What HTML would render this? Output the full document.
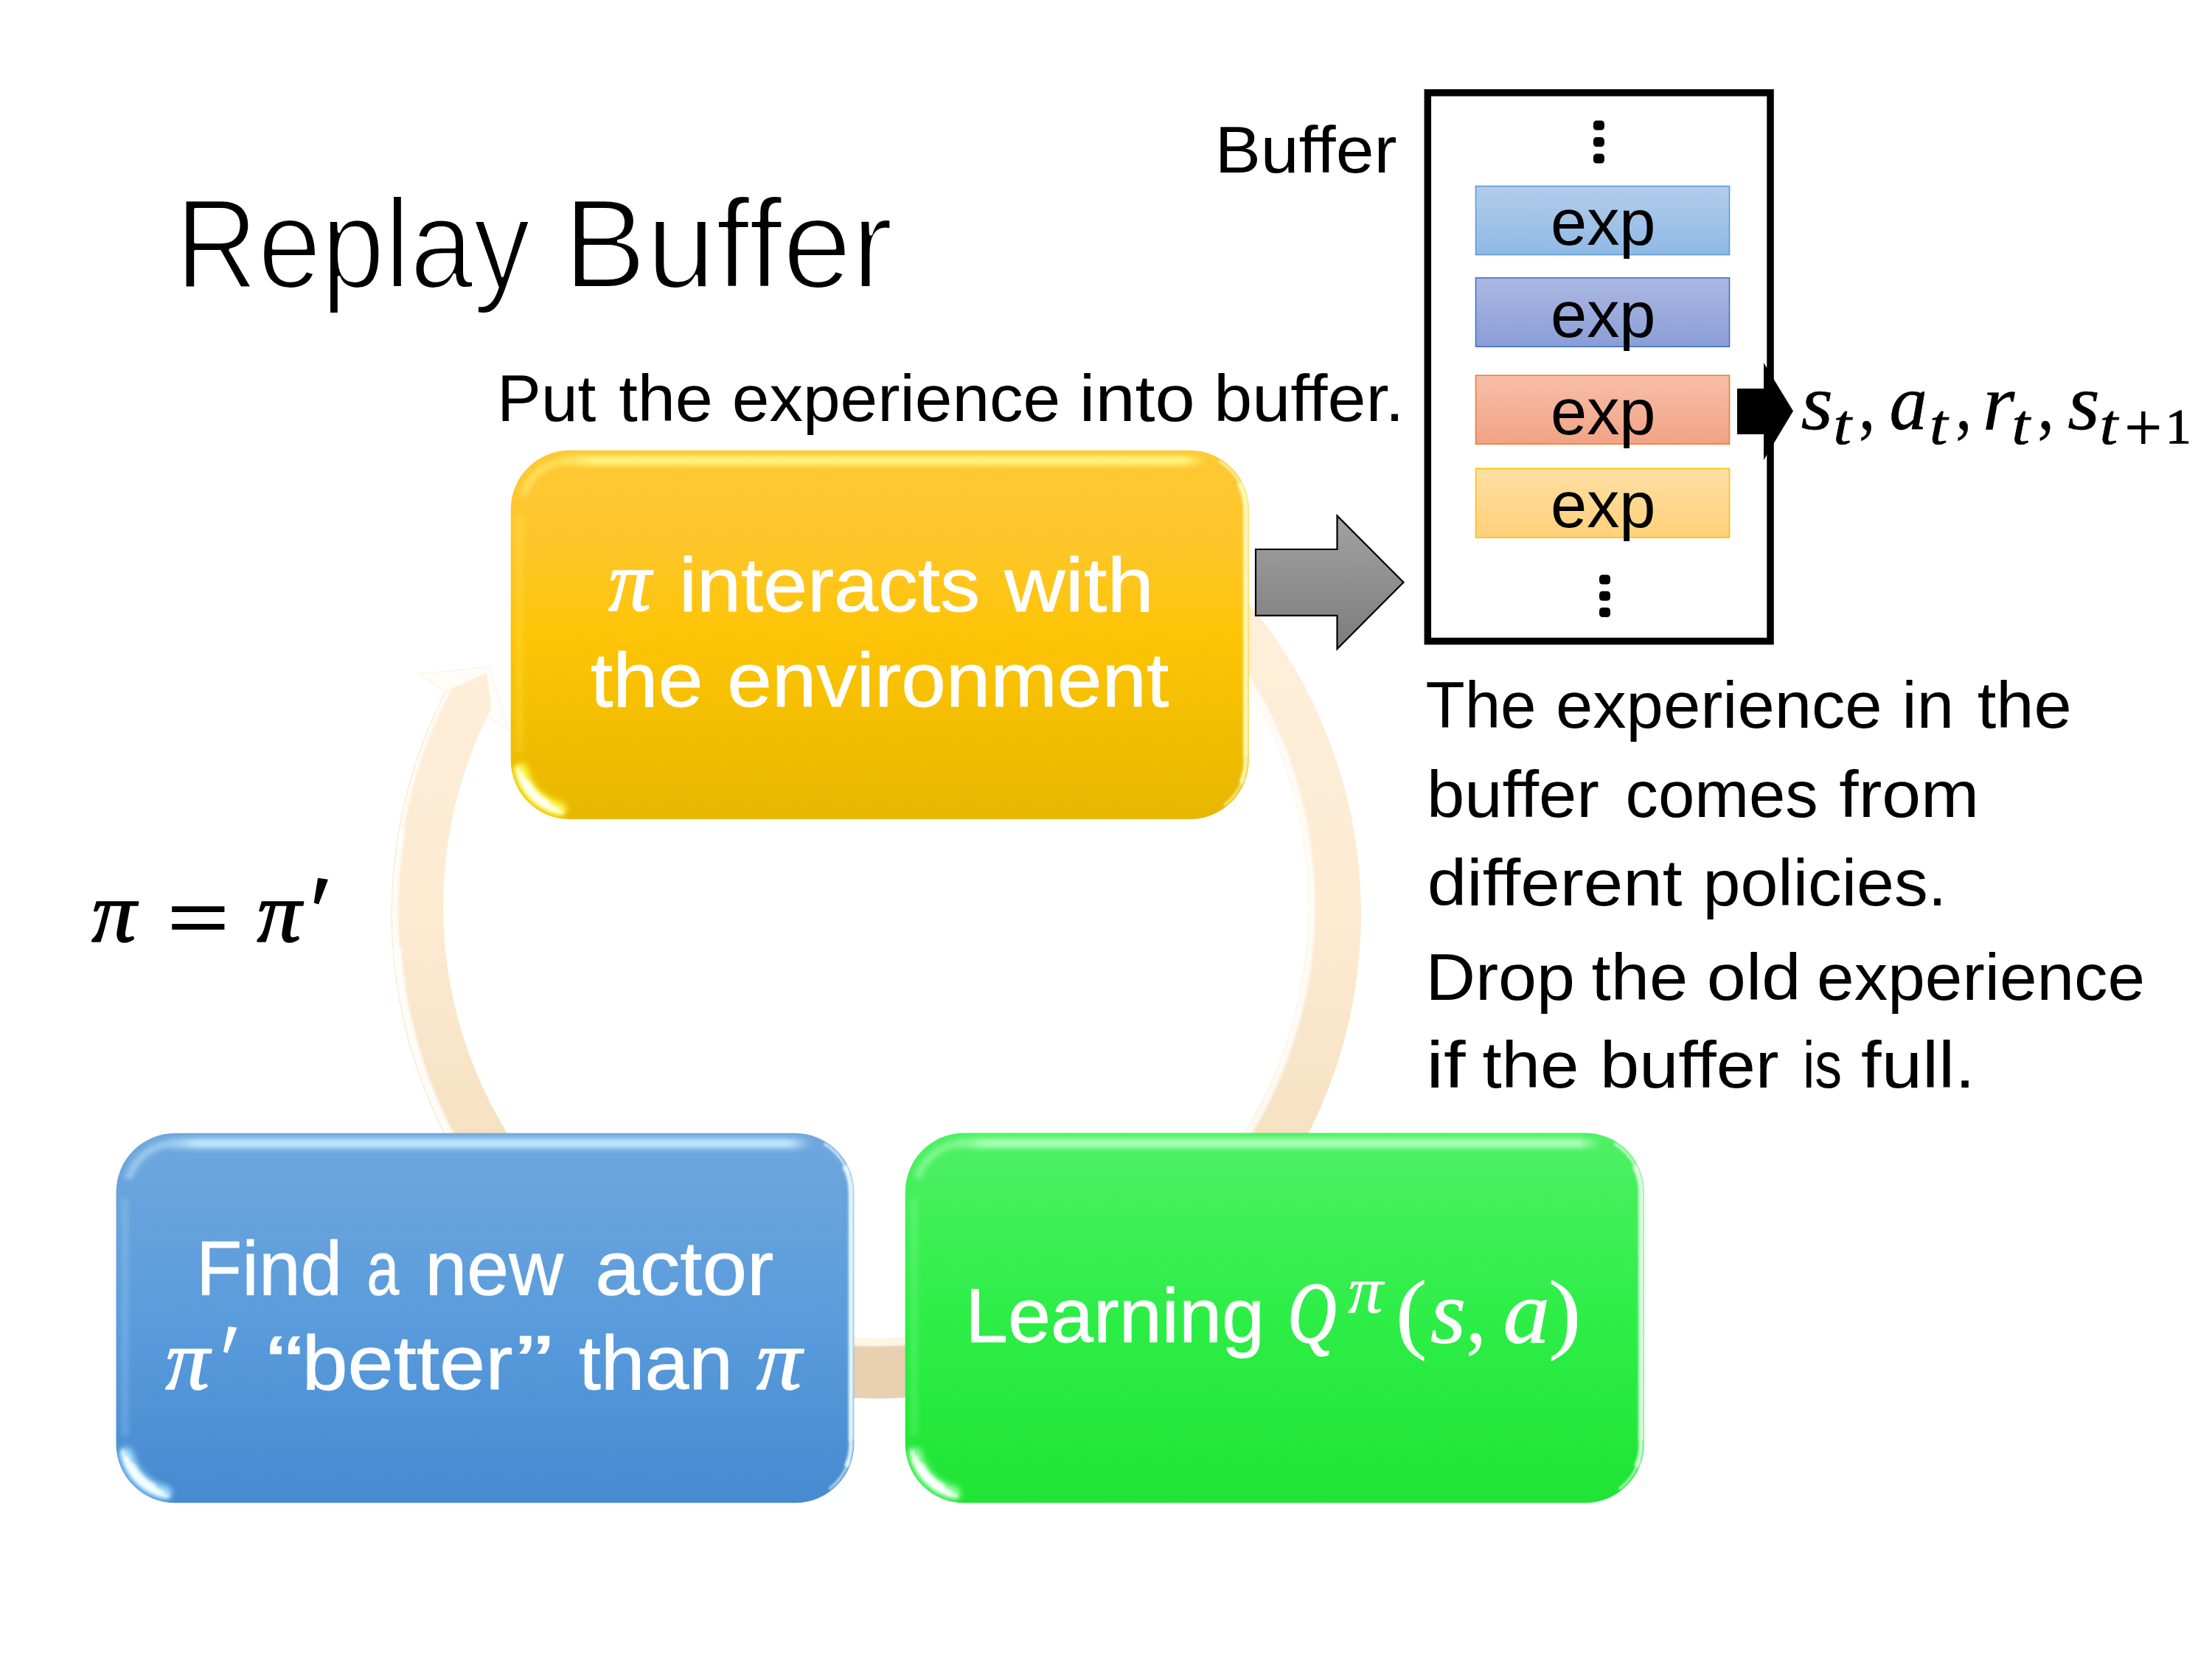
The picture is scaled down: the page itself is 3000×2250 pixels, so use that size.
<!DOCTYPE html>
<html><head><meta charset="utf-8"><title>Replay Buffer</title>
<style>
html,body{margin:0;padding:0;background:#fff;}
body{width:3000px;height:2250px;overflow:hidden;font-family:"Liberation Sans",sans-serif;}
svg{display:block;position:absolute;left:0;top:0;}
text{white-space:pre;}
</style></head><body>
<svg width="3000" height="2250" viewBox="0 0 3000 2250">
<defs>
<filter id="bl1" filterUnits="userSpaceOnUse" x="0" y="0" width="3000" height="2250"><feGaussianBlur stdDeviation="1.5"/></filter>
<filter id="bl2" filterUnits="userSpaceOnUse" x="0" y="0" width="3000" height="2250"><feGaussianBlur stdDeviation="2.2"/></filter>
<filter id="bl4" filterUnits="userSpaceOnUse" x="0" y="0" width="3000" height="2250"><feGaussianBlur stdDeviation="4"/></filter>
<filter id="bl3" filterUnits="userSpaceOnUse" x="0" y="0" width="3000" height="2250"><feGaussianBlur stdDeviation="3.5"/></filter>
<linearGradient id="gy" x1="0" y1="0" x2="0" y2="1"><stop offset="0" stop-color="#FEC834"/><stop offset="0.25" stop-color="#FEC62A"/><stop offset="0.5" stop-color="#FEC406"/><stop offset="0.75" stop-color="#F3BE00"/><stop offset="1" stop-color="#E6B700"/></linearGradient>
<linearGradient id="gb" x1="0" y1="0" x2="0" y2="1"><stop offset="0" stop-color="#70A7DD"/><stop offset="0.5" stop-color="#5A9CDC"/><stop offset="1" stop-color="#468AD0"/></linearGradient>
<linearGradient id="gg" x1="0" y1="0" x2="0" y2="1"><stop offset="0" stop-color="#4FF065"/><stop offset="0.5" stop-color="#2DEE47"/><stop offset="1" stop-color="#1FE433"/></linearGradient>
<linearGradient id="gr" gradientUnits="userSpaceOnUse" x1="0" y1="830" x2="0" y2="1900"><stop offset="0" stop-color="#FEEFDA"/><stop offset="0.38" stop-color="#FDEBD2"/><stop offset="0.66" stop-color="#F6E1C3"/><stop offset="0.92" stop-color="#E8D0B0"/><stop offset="1" stop-color="#E8D0B0"/></linearGradient>
<linearGradient id="ga" x1="0" y1="0" x2="0" y2="1"><stop offset="0" stop-color="#A2A2A2"/><stop offset="1" stop-color="#7C7C7C"/></linearGradient>
<linearGradient id="e1" x1="0" y1="0" x2="0" y2="1"><stop offset="0" stop-color="#B3CDEB"/><stop offset="1" stop-color="#8FB9E5"/></linearGradient>
<linearGradient id="e2" x1="0" y1="0" x2="0" y2="1"><stop offset="0" stop-color="#ABB8E2"/><stop offset="1" stop-color="#8A9ED7"/></linearGradient>
<linearGradient id="e3" x1="0" y1="0" x2="0" y2="1"><stop offset="0" stop-color="#F7BFA8"/><stop offset="1" stop-color="#F2A284"/></linearGradient>
<linearGradient id="e4" x1="0" y1="0" x2="0" y2="1"><stop offset="0" stop-color="#FFDFA6"/><stop offset="1" stop-color="#FFD078"/></linearGradient>
</defs>
<defs><linearGradient id="ty" gradientUnits="userSpaceOnUse" x1="766.7" y1="0" x2="1635.7" y2="0"><stop offset="0" stop-color="#FFF780" stop-opacity="0.4"/><stop offset="0.04" stop-color="#FFF780" stop-opacity="0.95"/><stop offset="0.965" stop-color="#FFF780" stop-opacity="0.95"/><stop offset="1" stop-color="#FFF780" stop-opacity="0"/></linearGradient><linearGradient id="tb" gradientUnits="userSpaceOnUse" x1="231.5" y1="0" x2="1100.3" y2="0"><stop offset="0" stop-color="#C4ECFF" stop-opacity="0.4"/><stop offset="0.04" stop-color="#C4ECFF" stop-opacity="0.95"/><stop offset="0.965" stop-color="#C4ECFF" stop-opacity="0.95"/><stop offset="1" stop-color="#C4ECFF" stop-opacity="0"/></linearGradient><linearGradient id="tg" gradientUnits="userSpaceOnUse" x1="1302" y1="0" x2="2171" y2="0"><stop offset="0" stop-color="#B0FFBC" stop-opacity="0.4"/><stop offset="0.04" stop-color="#B0FFBC" stop-opacity="0.95"/><stop offset="0.965" stop-color="#B0FFBC" stop-opacity="0.95"/><stop offset="1" stop-color="#B0FFBC" stop-opacity="0"/></linearGradient></defs>
<path d="M566,914 L664,904.5 L689.5,990 Z" fill="#FFFDF8" stroke="#FDF1E2" stroke-width="1.2"/>
<path d="M1593.2,720.7 A657.7,657.7 0 1 1 603.9,937.3 L660,913 L666.3,960.5 A586.5,586.5 0 1 0 1548.6,767.3 Z" fill="url(#gr)"/>
<clipPath id="cring"><path d="M1593.2,720.7 A657.7,657.7 0 1 1 603.9,937.3 L660,913 L666.3,960.5 A586.5,586.5 0 1 0 1548.6,767.3 Z"/></clipPath>
<g clip-path="url(#cring)" fill="none"><path d="M1551.4,763.8 A591.0,591.0 0 0 1 823.6,1695.2" stroke="#FFFFFF" stroke-opacity="0.8" stroke-width="10" filter="url(#bl1)"/><path d="M842.7,1792.1 A652.2,652.2 0 0 1 537.7,1284.5" stroke="#FFFFFF" stroke-opacity="0.88" stroke-width="12" filter="url(#bl1)"/><path d="M538.7,1307.3 A653.2,653.2 0 0 1 545.0,1125.6" stroke="#FFFFFF" stroke-opacity="0.85" stroke-width="9.5" filter="url(#bl1)"/><path d="M540.2,1147.9 A654.5,654.5 0 0 1 639.4,882.5" stroke="#FFFFFF" stroke-opacity="0.8" stroke-width="6.5" filter="url(#bl1)"/><path d="M840.1,1796.3 A657.1,657.1 0 0 1 637.2,881.1" stroke="#F6E6CC" stroke-opacity="0.9" stroke-width="1.2"/></g>
<path d="M1150,1819.5 Q1190,1821.5 1236,1819" fill="none" stroke="#FFF6E6" stroke-width="8" filter="url(#bl1)"/>
<clipPath id="cy"><path d="M772.7,610.8 H1613.7 A80,80 0 0 1 1693.7,690.8 V1031 A80,80 0 0 1 1613.7,1111 H772.7 A80,80 0 0 1 692.7,1031 V690.8 A80,80 0 0 1 772.7,610.8 Z"/></clipPath>
<path d="M772.7,610.8 H1613.7 A80,80 0 0 1 1693.7,690.8 V1031 A80,80 0 0 1 1613.7,1111 H772.7 A80,80 0 0 1 692.7,1031 V690.8 A80,80 0 0 1 772.7,610.8 Z" fill="url(#gy)"/>
<g clip-path="url(#cy)">
<path d="M766.7,624.8 H1635.7" fill="none" stroke="url(#ty)" stroke-width="13" filter="url(#bl3)"/>
<path d="M709.3,672.6 A66,66 0 0 1 770.4,624.8" fill="none" stroke="#FFF27A" stroke-opacity="0.6" stroke-width="9" filter="url(#bl3)"/>
<path d="M704.7,698.8 V1021" fill="none" stroke="#FFF27A" stroke-opacity="0.25" stroke-width="8" filter="url(#bl3)"/>
<path d="M1680.8,655.1 A76,76 0 0 1 1689.7,690.8 V1025" fill="none" stroke="#FFFDC0" stroke-width="7" filter="url(#bl1)" stroke-opacity="0.95"/>
<path d="M1654.3,625.8 A76.7,76.7 0 0 1 1684.8,662.1" fill="none" stroke="#FFFDC0" stroke-width="3.5" filter="url(#bl1)" stroke-opacity="0.8" stroke-linecap="round"/>
<path d="M1689.3,1023.1 A76,76 0 0 1 1683.1,1061.9" fill="none" stroke="#FFFDC0" stroke-width="6" filter="url(#bl1)" stroke-opacity="0.9"/>
<path d="M1686.7,1054.7 A76.8,76.8 0 0 1 1661.0,1091.5" fill="none" stroke="#FFFDC0" stroke-width="3.2" filter="url(#bl1)" stroke-opacity="0.75" stroke-linecap="round"/>
<path d="M758.6,1097.5 A68,68 0 0 1 706.2,1045.1" fill="none" stroke="#FFFF50" stroke-width="19" stroke-linecap="round" filter="url(#bl4)" stroke-opacity="0.95"/>
<g filter="url(#bl2)" fill="none" stroke="#FFFFF0" stroke-linecap="round">
<path d="M762.7,1101.8 A71.5,71.5 0 0 1 701.9,1041.0" stroke-width="4"/>
<path d="M752.4,1097.5 A69.5,69.5 0 0 1 706.2,1051.3" stroke-width="8"/>
<path d="M741.0,1090.6 A67.5,67.5 0 0 1 713.1,1062.7" stroke-width="12"/>
</g>
</g>
<clipPath id="cb"><path d="M237.5,1536.8 H1078.3 A80,80 0 0 1 1158.3,1616.8 V1958.3 A80,80 0 0 1 1078.3,2038.3 H237.5 A80,80 0 0 1 157.5,1958.3 V1616.8 A80,80 0 0 1 237.5,1536.8 Z"/></clipPath>
<path d="M237.5,1536.8 H1078.3 A80,80 0 0 1 1158.3,1616.8 V1958.3 A80,80 0 0 1 1078.3,2038.3 H237.5 A80,80 0 0 1 157.5,1958.3 V1616.8 A80,80 0 0 1 237.5,1536.8 Z" fill="url(#gb)"/>
<g clip-path="url(#cb)">
<path d="M231.5,1550.8 H1100.3" fill="none" stroke="url(#tb)" stroke-width="13" filter="url(#bl3)"/>
<path d="M174.1,1598.6 A66,66 0 0 1 235.2,1550.8" fill="none" stroke="#BEE6FF" stroke-opacity="0.6" stroke-width="9" filter="url(#bl3)"/>
<path d="M169.5,1624.8 V1948.3" fill="none" stroke="#BEE6FF" stroke-opacity="0.25" stroke-width="8" filter="url(#bl3)"/>
<path d="M1145.4,1581.1 A76,76 0 0 1 1154.3,1616.8 V1952.3" fill="none" stroke="#EAFBFF" stroke-width="7" filter="url(#bl1)" stroke-opacity="0.95"/>
<path d="M1118.9,1551.8 A76.7,76.7 0 0 1 1149.4,1588.1" fill="none" stroke="#EAFBFF" stroke-width="3.5" filter="url(#bl1)" stroke-opacity="0.8" stroke-linecap="round"/>
<path d="M1153.9,1950.4 A76,76 0 0 1 1147.7,1989.2" fill="none" stroke="#EAFBFF" stroke-width="6" filter="url(#bl1)" stroke-opacity="0.9"/>
<path d="M1151.3,1982.0 A76.8,76.8 0 0 1 1125.6,2018.8" fill="none" stroke="#EAFBFF" stroke-width="3.2" filter="url(#bl1)" stroke-opacity="0.75" stroke-linecap="round"/>
<path d="M223.4,2024.8 A68,68 0 0 1 171.0,1972.4" fill="none" stroke="#A8E4FF" stroke-width="19" stroke-linecap="round" filter="url(#bl4)" stroke-opacity="0.95"/>
<g filter="url(#bl2)" fill="none" stroke="#F4FDFF" stroke-linecap="round">
<path d="M227.5,2029.1 A71.5,71.5 0 0 1 166.7,1968.3" stroke-width="4"/>
<path d="M217.2,2024.8 A69.5,69.5 0 0 1 171.0,1978.6" stroke-width="8"/>
<path d="M205.8,2017.9 A67.5,67.5 0 0 1 177.9,1990.0" stroke-width="12"/>
</g>
</g>
<clipPath id="cg"><path d="M1307.7,1536.5 H2149.8 A80,80 0 0 1 2229.8,1616.5 V1958.3 A80,80 0 0 1 2149.8,2038.3 H1307.7 A80,80 0 0 1 1227.7,1958.3 V1616.5 A80,80 0 0 1 1307.7,1536.5 Z"/></clipPath>
<path d="M1307.7,1536.5 H2149.8 A80,80 0 0 1 2229.8,1616.5 V1958.3 A80,80 0 0 1 2149.8,2038.3 H1307.7 A80,80 0 0 1 1227.7,1958.3 V1616.5 A80,80 0 0 1 1307.7,1536.5 Z" fill="url(#gg)"/>
<g clip-path="url(#cg)">
<path d="M1301.7,1550.5 H2171.8" fill="none" stroke="url(#tg)" stroke-width="13" filter="url(#bl3)"/>
<path d="M1244.3,1598.3 A66,66 0 0 1 1305.4,1550.5" fill="none" stroke="#A8FFB4" stroke-opacity="0.6" stroke-width="9" filter="url(#bl3)"/>
<path d="M1239.7,1624.5 V1948.3" fill="none" stroke="#A8FFB4" stroke-opacity="0.25" stroke-width="8" filter="url(#bl3)"/>
<path d="M2216.9,1580.8 A76,76 0 0 1 2225.8,1616.5 V1952.3" fill="none" stroke="#ECFFF0" stroke-width="7" filter="url(#bl1)" stroke-opacity="0.95"/>
<path d="M2190.4,1551.5 A76.7,76.7 0 0 1 2220.9,1587.8" fill="none" stroke="#ECFFF0" stroke-width="3.5" filter="url(#bl1)" stroke-opacity="0.8" stroke-linecap="round"/>
<path d="M2225.4,1950.4 A76,76 0 0 1 2219.2,1989.2" fill="none" stroke="#ECFFF0" stroke-width="6" filter="url(#bl1)" stroke-opacity="0.9"/>
<path d="M2222.8,1982.0 A76.8,76.8 0 0 1 2197.1,2018.8" fill="none" stroke="#ECFFF0" stroke-width="3.2" filter="url(#bl1)" stroke-opacity="0.75" stroke-linecap="round"/>
<path d="M1293.6,2024.8 A68,68 0 0 1 1241.2,1972.4" fill="none" stroke="#90FFA0" stroke-width="19" stroke-linecap="round" filter="url(#bl4)" stroke-opacity="0.95"/>
<g filter="url(#bl2)" fill="none" stroke="#FFFFFF" stroke-linecap="round">
<path d="M1297.7,2029.1 A71.5,71.5 0 0 1 1236.9,1968.3" stroke-width="4"/>
<path d="M1287.4,2024.8 A69.5,69.5 0 0 1 1241.2,1978.6" stroke-width="8"/>
<path d="M1276.0,2017.9 A67.5,67.5 0 0 1 1248.1,1990.0" stroke-width="12"/>
</g>
</g>
<path d="M1703,745 H1813.5 V699.5 L1903.5,789.8 L1813.5,880 V834.8 H1703 Z" fill="url(#ga)" stroke="#000" stroke-width="2.2" stroke-linejoin="miter"/>
<rect x="1936.3" y="125.8" width="464.7" height="743.8" fill="none" stroke="#000" stroke-width="9.5"/>
<rect x="2001.5" y="252.5" width="344" height="93" fill="url(#e1)" stroke="#5B9BD5" stroke-width="1.6"/>
<rect x="2001.5" y="376.8" width="344" height="93.39999999999998" fill="url(#e2)" stroke="#4472C4" stroke-width="1.6"/>
<rect x="2001.5" y="509.2" width="344" height="93.00000000000006" fill="url(#e3)" stroke="#ED7D31" stroke-width="1.6"/>
<rect x="2001.5" y="635.5" width="344" height="93.5" fill="url(#e4)" stroke="#FFC000" stroke-width="1.6"/>
<path d="M2356,527 H2392 V492 L2432,557.5 L2392,624 V589 H2356 Z" fill="#000"/>
<rect x="2160.9" y="163.5" width="15" height="13" rx="4.5" fill="#000"/>
<rect x="2160.9" y="186.1" width="15" height="13" rx="4.5" fill="#000"/>
<rect x="2160.9" y="208.5" width="15" height="13" rx="4.5" fill="#000"/>
<rect x="2169.0" y="779.5" width="15" height="13" rx="4.5" fill="#000"/>
<rect x="2169.0" y="801.8" width="15" height="13" rx="4.5" fill="#000"/>
<rect x="2169.0" y="824.0" width="15" height="13" rx="4.5" fill="#000"/>
<path d="M309.9,1799 L321.4,1800.5 L308.3,1835 L303,1833.5 Z" fill="#fff"/>
<path d="M431.1,1190.8 L445,1192.8 L432.1,1226.6 L425.7,1224.6 Z" fill="#000"/>
<rect x="233.2" y="1229.2" width="71.2" height="7.8" fill="#000"/><rect x="233.2" y="1253" width="71.2" height="7.8" fill="#000"/>
<rect x="2885.4" y="577" width="42.8" height="5.4" fill="#000"/><rect x="2904.1" y="558" width="5.4" height="44" fill="#000"/>
<g>
<text transform="translate(238.02 390.10) scale(0.8958 1)" font-family="Liberation Sans" font-size="172.60" font-style="normal" fill="#000" stroke="#fff" stroke-width="4.2" stroke-linejoin="round">Replay</text>
<text transform="translate(764.01 390.10) scale(0.9780 1)" font-family="Liberation Sans" font-size="172.60" font-style="normal" fill="#000" stroke="#fff" stroke-width="4.2" stroke-linejoin="round">Buffer</text>
<text transform="translate(674.32 571.00) scale(1.0036 1)" font-family="Liberation Sans" font-size="89.00" font-style="normal" fill="#000">Put</text>
<text transform="translate(839.20 571.00) scale(1.0332 1)" font-family="Liberation Sans" font-size="89.00" font-style="normal" fill="#000">the</text>
<text transform="translate(992.75 571.00) scale(1.0233 1)" font-family="Liberation Sans" font-size="89.00" font-style="normal" fill="#000">experience</text>
<text transform="translate(1463.82 571.00) scale(1.0936 1)" font-family="Liberation Sans" font-size="89.00" font-style="normal" fill="#000">into</text>
<text transform="translate(1646.15 571.00) scale(1.0509 1)" font-family="Liberation Sans" font-size="89.00" font-style="normal" fill="#000">buffer.</text>
<text transform="translate(1647.73 233.50) scale(1.0462 1)" font-family="Liberation Sans" font-size="89.00" font-style="normal" fill="#000">Buffer</text>
<text transform="translate(2102.94 332.00) scale(0.9941 1)" font-family="Liberation Sans" font-size="89.00" font-style="normal" fill="#000">exp</text>
<text transform="translate(2102.94 456.50) scale(0.9941 1)" font-family="Liberation Sans" font-size="89.00" font-style="normal" fill="#000">exp</text>
<text transform="translate(2102.94 588.50) scale(0.9941 1)" font-family="Liberation Sans" font-size="89.00" font-style="normal" fill="#000">exp</text>
<text transform="translate(2102.94 715.00) scale(0.9941 1)" font-family="Liberation Sans" font-size="89.00" font-style="normal" fill="#000">exp</text>
<text transform="translate(1933.45 987.00) scale(0.9787 1)" font-family="Liberation Sans" font-size="89.00" font-style="normal" fill="#000">The</text>
<text transform="translate(2110.01 987.00) scale(1.0166 1)" font-family="Liberation Sans" font-size="89.00" font-style="normal" fill="#000">experience</text>
<text transform="translate(2579.61 987.00) scale(1.0164 1)" font-family="Liberation Sans" font-size="89.00" font-style="normal" fill="#000">in</text>
<text transform="translate(2681.74 987.00) scale(1.0350 1)" font-family="Liberation Sans" font-size="89.00" font-style="normal" fill="#000">the</text>
<text transform="translate(1935.02 1107.80) scale(1.0354 1)" font-family="Liberation Sans" font-size="89.00" font-style="normal" fill="#000">buffer</text>
<text transform="translate(2204.55 1107.80) scale(0.9962 1)" font-family="Liberation Sans" font-size="89.00" font-style="normal" fill="#000">comes</text>
<text transform="translate(2494.26 1107.80) scale(1.0669 1)" font-family="Liberation Sans" font-size="89.00" font-style="normal" fill="#000">from</text>
<text transform="translate(1935.78 1228.10) scale(1.0807 1)" font-family="Liberation Sans" font-size="89.00" font-style="normal" fill="#000">different</text>
<text transform="translate(2309.51 1228.10) scale(1.0287 1)" font-family="Liberation Sans" font-size="89.00" font-style="normal" fill="#000">policies.</text>
<text transform="translate(1933.48 1355.90) scale(1.0500 1)" font-family="Liberation Sans" font-size="89.00" font-style="normal" fill="#000">Drop</text>
<text transform="translate(2158.59 1355.90) scale(1.0557 1)" font-family="Liberation Sans" font-size="89.00" font-style="normal" fill="#000">the</text>
<text transform="translate(2314.73 1355.90) scale(1.0753 1)" font-family="Liberation Sans" font-size="89.00" font-style="normal" fill="#000">old</text>
<text transform="translate(2464.07 1355.90) scale(1.0224 1)" font-family="Liberation Sans" font-size="89.00" font-style="normal" fill="#000">experience</text>
<text transform="translate(1934.37 1475.30) scale(1.1975 1)" font-family="Liberation Sans" font-size="89.00" font-style="normal" fill="#000">if</text>
<text transform="translate(2010.40 1475.30) scale(1.0599 1)" font-family="Liberation Sans" font-size="89.00" font-style="normal" fill="#000">the</text>
<text transform="translate(2170.02 1475.30) scale(1.0738 1)" font-family="Liberation Sans" font-size="89.00" font-style="normal" fill="#000">buffer</text>
<text transform="translate(2444.91 1475.30) scale(0.8269 1)" font-family="Liberation Sans" font-size="89.00" font-style="normal" fill="#000">is</text>
<text transform="translate(2524.10 1475.30) scale(1.1169 1)" font-family="Liberation Sans" font-size="89.00" font-style="normal" fill="#000">full.</text>
<text transform="translate(921.05 828.80) scale(1.0395 1)" font-family="Liberation Sans" font-size="103.84" font-style="normal" fill="#fff" stroke="#fff" stroke-width="0.8" stroke-linejoin="round">interacts</text>
<text transform="translate(1362.18 828.80) scale(1.0984 1)" font-family="Liberation Sans" font-size="103.84" font-style="normal" fill="#fff" stroke="#fff" stroke-width="0.8" stroke-linejoin="round">with</text>
<text transform="translate(800.80 957.70) scale(1.0582 1)" font-family="Liberation Sans" font-size="103.84" font-style="normal" fill="#fff" stroke="#fff" stroke-width="0.8" stroke-linejoin="round">the</text>
<text transform="translate(986.30 957.70) scale(1.0482 1)" font-family="Liberation Sans" font-size="103.84" font-style="normal" fill="#fff" stroke="#fff" stroke-width="0.8" stroke-linejoin="round">environment</text>
<text transform="translate(266.04 1756.20) scale(0.9816 1)" font-family="Liberation Sans" font-size="103.84" font-style="normal" fill="#fff" stroke="#fff" stroke-width="0.8" stroke-linejoin="round">Find</text>
<text transform="translate(497.45 1756.20) scale(0.7559 1)" font-family="Liberation Sans" font-size="103.84" font-style="normal" fill="#fff" stroke="#fff" stroke-width="0.8" stroke-linejoin="round">a</text>
<text transform="translate(576.51 1756.20) scale(0.9840 1)" font-family="Liberation Sans" font-size="103.84" font-style="normal" fill="#fff" stroke="#fff" stroke-width="0.8" stroke-linejoin="round">new</text>
<text transform="translate(807.30 1756.20) scale(1.0485 1)" font-family="Liberation Sans" font-size="103.84" font-style="normal" fill="#fff" stroke="#fff" stroke-width="0.8" stroke-linejoin="round">actor</text>
<text transform="translate(361.15 1883.50) scale(1.4647 1)" font-family="Liberation Sans" font-size="103.84" font-style="normal" fill="#fff" stroke="#fff" stroke-width="0.8" stroke-linejoin="round">“</text>
<text transform="translate(409.41 1883.50) scale(1.0773 1)" font-family="Liberation Sans" font-size="103.84" font-style="normal" fill="#fff" stroke="#fff" stroke-width="0.8" stroke-linejoin="round">better</text>
<text transform="translate(699.55 1883.50) scale(1.4647 1)" font-family="Liberation Sans" font-size="103.84" font-style="normal" fill="#fff" stroke="#fff" stroke-width="0.8" stroke-linejoin="round">”</text>
<text transform="translate(785.00 1883.50) scale(1.0343 1)" font-family="Liberation Sans" font-size="103.84" font-style="normal" fill="#fff" stroke="#fff" stroke-width="0.8" stroke-linejoin="round">than</text>
<text transform="translate(1308.95 1819.80) scale(1.0049 1)" font-family="Liberation Sans" font-size="103.84" font-style="normal" fill="#fff" stroke="#fff" stroke-width="0.8" stroke-linejoin="round">Learning</text>
<text transform="translate(825.15 828.40) scale(0.9974 1)" font-family="Liberation Serif" font-size="116.25" font-style="italic" fill="#fff" stroke="#fff" stroke-width="1.7" stroke-linejoin="round">π</text>
<text transform="translate(224.55 1883.90) scale(1.0266 1)" font-family="Liberation Serif" font-size="116.25" font-style="italic" fill="#fff" stroke="#fff" stroke-width="1.7" stroke-linejoin="round">π</text>
<text transform="translate(1025.85 1883.90) scale(1.0574 1)" font-family="Liberation Serif" font-size="116.25" font-style="italic" fill="#fff" stroke="#fff" stroke-width="1.7" stroke-linejoin="round">π</text>
<text transform="translate(124.25 1276.90) scale(1.0412 1)" font-family="Liberation Serif" font-size="116.25" font-style="italic" fill="#000" stroke="#000" stroke-width="1.7" stroke-linejoin="round">π</text>
<text transform="translate(348.45 1276.90) scale(1.0347 1)" font-family="Liberation Serif" font-size="116.25" font-style="italic" fill="#000" stroke="#000" stroke-width="1.7" stroke-linejoin="round">π</text>
<text transform="translate(1746.54 1820.00) scale(0.7806 1)" font-family="Liberation Serif" font-size="116.50" font-style="italic" fill="#fff" stroke="#fff" stroke-width="2.2" stroke-linejoin="round">Q</text>
<text transform="translate(1828.35 1779.50) scale(1.0292 1)" font-family="Liberation Serif" font-size="92.00" font-style="italic" fill="#fff" stroke="#fff" stroke-width="0.7" stroke-linejoin="round">π</text>
<text transform="translate(1893.08 1820.00) scale(1.0578 1)" font-family="Liberation Serif" font-size="120.00" font-style="normal" fill="#fff" stroke="#fff" stroke-width="0.5" stroke-linejoin="round">(</text>
<text transform="translate(1939.85 1820.50) scale(1.0195 1)" font-family="Liberation Serif" font-size="122.00" font-style="italic" fill="#fff" stroke="#fff" stroke-width="0.9" stroke-linejoin="round">s</text>
<text transform="translate(1988.23 1820.00) scale(0.9120 1)" font-family="Liberation Serif" font-size="120.00" font-style="normal" fill="#fff" stroke="#fff" stroke-width="0.5" stroke-linejoin="round">,</text>
<text transform="translate(2038.46 1821.00) scale(1.0419 1)" font-family="Liberation Serif" font-size="122.00" font-style="italic" fill="#fff" stroke="#fff" stroke-width="0.9" stroke-linejoin="round">a</text>
<text transform="translate(2099.74 1820.00) scale(1.1231 1)" font-family="Liberation Serif" font-size="120.00" font-style="normal" fill="#fff" stroke="#fff" stroke-width="0.5" stroke-linejoin="round">)</text>
<text transform="translate(2442.60 581.50) scale(1.0332 1)" font-family="Liberation Serif" font-size="108.00" font-style="italic" fill="#000" stroke="#000" stroke-width="0.6" stroke-linejoin="round">s</text>
<text transform="translate(2486.21 602.00) scale(1.1442 1)" font-family="Liberation Serif" font-size="78.00" font-style="italic" fill="#000" stroke="#000" stroke-width="0.6" stroke-linejoin="round">t</text>
<text transform="translate(2521.07 581.50) scale(0.8554 1)" font-family="Liberation Serif" font-size="104.00" font-style="normal" fill="#000" stroke="#000" stroke-width="0.5" stroke-linejoin="round">,</text>
<text transform="translate(2562.39 581.50) scale(0.9522 1)" font-family="Liberation Serif" font-size="108.00" font-style="italic" fill="#000" stroke="#000" stroke-width="0.6" stroke-linejoin="round">a</text>
<text transform="translate(2616.81 602.00) scale(1.1442 1)" font-family="Liberation Serif" font-size="78.00" font-style="italic" fill="#000" stroke="#000" stroke-width="0.6" stroke-linejoin="round">t</text>
<text transform="translate(2652.19 581.50) scale(0.8492 1)" font-family="Liberation Serif" font-size="104.00" font-style="normal" fill="#000" stroke="#000" stroke-width="0.5" stroke-linejoin="round">,</text>
<text transform="translate(2688.84 581.50) scale(1.0395 1)" font-family="Liberation Serif" font-size="108.00" font-style="italic" fill="#000" stroke="#000" stroke-width="0.3" stroke-linejoin="round">r</text>
<text transform="translate(2728.21 602.00) scale(1.1442 1)" font-family="Liberation Serif" font-size="78.00" font-style="italic" fill="#000" stroke="#000" stroke-width="0.6" stroke-linejoin="round">t</text>
<text transform="translate(2763.45 581.50) scale(0.8615 1)" font-family="Liberation Serif" font-size="104.00" font-style="normal" fill="#000" stroke="#000" stroke-width="0.5" stroke-linejoin="round">,</text>
<text transform="translate(2804.30 581.50) scale(1.0357 1)" font-family="Liberation Serif" font-size="108.00" font-style="italic" fill="#000" stroke="#000" stroke-width="0.6" stroke-linejoin="round">s</text>
<text transform="translate(2847.51 602.00) scale(1.1442 1)" font-family="Liberation Serif" font-size="78.00" font-style="italic" fill="#000" stroke="#000" stroke-width="0.6" stroke-linejoin="round">t</text>
<text transform="translate(2937.06 601.00) scale(1.0235 1)" font-family="Liberation Serif" font-size="68.00" font-style="normal" fill="#000" stroke="#000" stroke-width="1.4" stroke-linejoin="round">1</text>
</g>
</svg>
</body></html>
